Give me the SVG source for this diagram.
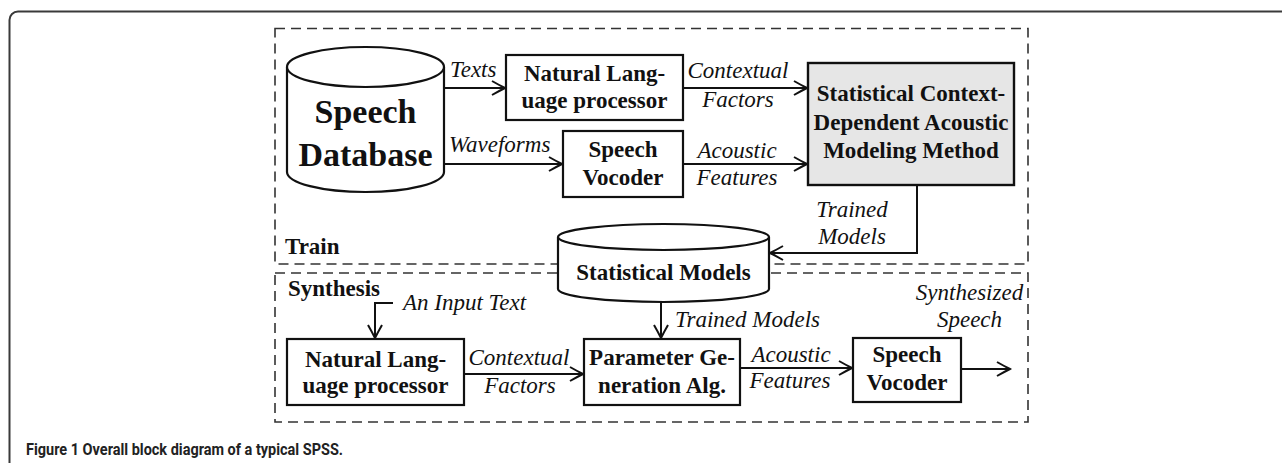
<svg xmlns="http://www.w3.org/2000/svg" width="1282" height="463" viewBox="0 0 1282 463">
<style>
.frame{fill:none;stroke:#3a3a3a;stroke-width:2}
.dash{fill:none;stroke:#333;stroke-width:1.6;stroke-dasharray:10 6}
.box{fill:#fff;stroke:#111;stroke-width:2.2}
.gray{fill:#e6e6e6;stroke:#111;stroke-width:2.4}
.cyl{fill:#fff;stroke:#111;stroke-width:2.2}
.b{font-family:"Liberation Serif",serif;font-weight:bold;font-size:23px;fill:#111;text-anchor:middle}
.big{font-size:34px}
.i{font-family:"Liberation Serif",serif;font-style:italic;font-size:23px;fill:#111}
.m{text-anchor:middle}
.lbl{font-family:"Liberation Serif",serif;font-weight:bold;font-size:23px;fill:#111}
.con{fill:none;stroke:#111;stroke-width:2;marker-end:url(#arr)}
.cap{font-family:Roboto,"Open Sans",sans-serif;font-weight:bold;font-size:17px;fill:#222}
</style>
<defs>
<marker id="arr" markerUnits="userSpaceOnUse" markerWidth="16" markerHeight="18" refX="14" refY="8" orient="auto">
<path d="M1,1 Q8,5 14,8 Q8,11 1,15" fill="none" stroke="#111" stroke-width="2"/>
</marker>
</defs>
<rect width="1282" height="463" fill="#fff"/>
<path class="frame" d="M9.5,463 V20 A8.5,8.5 0 0 1 18,11.5 H1282"/>
<rect class="dash" x="275" y="28.5" width="753" height="235.5"/>
<rect class="dash" x="275" y="273" width="753" height="149"/>
<text class="lbl" x="285" y="254">Train</text>
<text class="lbl" x="288" y="296">Synthesis</text>

<g id="speech-database">
<path class="cyl" d="M287,67 V172 A78.5,20 0 0 0 444,172 V67"/>
<ellipse class="cyl" cx="365.5" cy="67" rx="78.5" ry="20"/>
<text class="b big" x="365.5" y="123">Speech</text>
<text class="b big" x="365.5" y="166">Database</text>
</g>
<g id="nlp-train">
<rect class="box" x="506" y="55" width="177" height="65"/>
<text class="b" x="594.5" y="81">Natural Lang-</text>
<text class="b" x="594.5" y="107.5">uage processor</text>
</g>
<g id="vocoder-train">
<rect class="box" x="563" y="131" width="120" height="66"/>
<text class="b" x="623" y="157">Speech</text>
<text class="b" x="623" y="185">Vocoder</text>
</g>
<g id="acoustic-modeling">
<rect class="gray" x="808" y="63" width="206" height="122"/>
<text class="b" x="911" y="101">Statistical Context-</text>
<text class="b" x="911" y="129.5">Dependent Acoustic</text>
<text class="b" x="911" y="158">Modeling Method</text>
</g>
<g id="statistical-models">
<path class="cyl" d="M558,237 V289 A105.5,13 0 0 0 769,289 V237"/>
<ellipse class="cyl" cx="663.5" cy="237" rx="105.5" ry="13"/>
<text class="b" x="663.5" y="280">Statistical Models</text>
</g>
<g id="nlp-synth">
<rect class="box" x="287" y="339" width="177" height="66"/>
<text class="b" x="375.5" y="367">Natural Lang-</text>
<text class="b" x="375.5" y="393">uage processor</text>
</g>
<g id="param-gen">
<rect class="box" x="584" y="339" width="156" height="66"/>
<text class="b" x="662" y="365">Parameter Ge-</text>
<text class="b" x="662" y="393">neration Alg.</text>
</g>
<g id="vocoder-synth">
<rect class="box" x="853" y="338" width="108" height="64"/>
<text class="b" x="907" y="362">Speech</text>
<text class="b" x="907" y="390">Vocoder</text>
</g>

<g id="connectors">
<path class="con" d="M444,88 H505"/>
<path class="con" d="M444,164 H562"/>
<path class="con" d="M683,88 H807"/>
<path class="con" d="M683,164 H807"/>
<path class="con" d="M917,185 V253 H770"/>
<path class="con" d="M393,303 H375 V338"/>
<path class="con" d="M464,374 H583"/>
<path class="con" d="M661,302 V338"/>
<path class="con" d="M740,368 H852"/>
<path class="con" d="M961,369 H1010"/>
<text class="i" x="450" y="77">Texts</text>
<text class="i" x="449" y="151.5">Waveforms</text>
<text class="i m" x="738" y="78">Contextual</text>
<text class="i m" x="738" y="107">Factors</text>
<text class="i m" x="737" y="158">Acoustic</text>
<text class="i m" x="737" y="185">Features</text>
<text class="i m" x="852" y="217">Trained</text>
<text class="i m" x="852" y="244">Models</text>
<text class="i" x="403" y="310">An Input Text</text>
<text class="i m" x="519" y="365">Contextual</text>
<text class="i m" x="520" y="393">Factors</text>
<text class="i" x="675" y="327">Trained Models</text>
<text class="i m" x="791" y="362">Acoustic</text>
<text class="i m" x="790" y="388">Features</text>
<text class="i m" x="969.5" y="300">Synthesized</text>
<text class="i m" x="969.5" y="327">Speech</text>
</g>
<text class="cap" x="26" y="455" textLength="317" lengthAdjust="spacingAndGlyphs">Figure 1 Overall block diagram of a typical SPSS.</text>
</svg>
